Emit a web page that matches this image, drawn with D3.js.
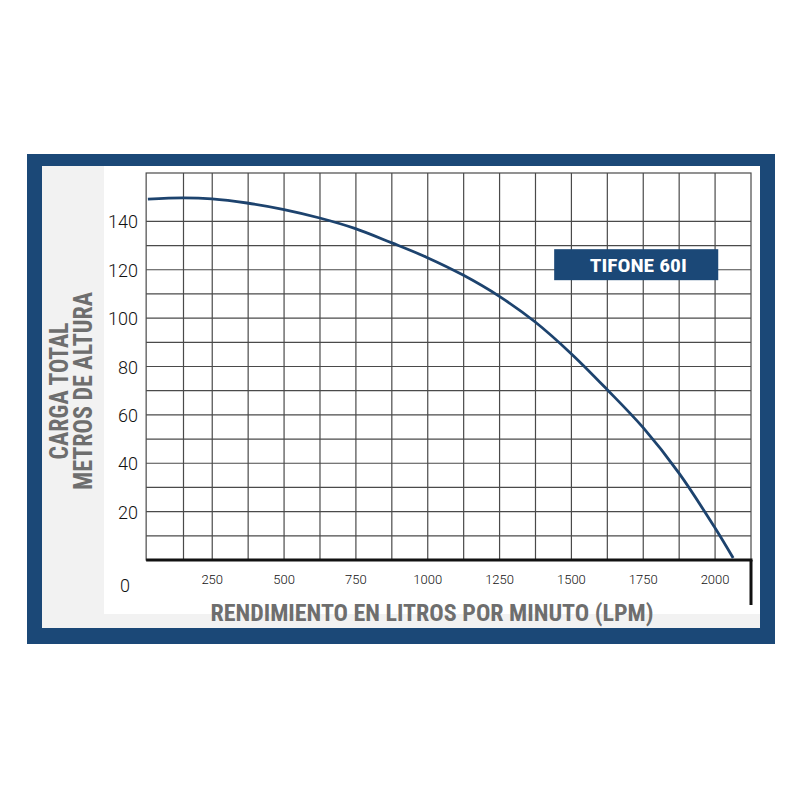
<!DOCTYPE html>
<html>
<head>
<meta charset="utf-8">
<script src="https://cdn.jsdelivr.net/npm/d3@7"></script>
<style>
  body { margin: 0; background: #fff; }
  svg { display: block; }
</style>
</head>
<body>
<div id="chart"></div>
<script>
// curve: flow (LPM) vs total head (m)
const flow = [26, 148, 249, 371, 496, 624, 746, 875, 997, 1123, 1248, 1373, 1502, 1624, 1749, 1875, 2000, 2063];
const head = [149.2, 149.7, 149.3, 147.6, 145, 141.4, 137.1, 131.1, 125.1, 117.8, 109.1, 98.5, 85, 70.5, 54.8, 35.8, 13.2, 0.8];

const xTicks = [250, 500, 750, 1000, 1250, 1500, 1750, 2000];
const yTicks = [0, 20, 40, 60, 80, 100, 120, 140];
const xGrid = [150, 250, 375, 500, 625, 750, 875, 1000, 1125, 1250, 1375, 1500, 1625, 1750, 1875, 2000];
const yGrid = [10, 20, 30, 40, 50, 60, 70, 80, 90, 100, 110, 120, 130, 140];
const seriesName = "TIFONE 60I";

const W = 800, H = 800;
const navy = "#1b4877";
const narrow = "'Liberation Sans Narrow', 'Arial Narrow', 'Roboto Condensed', sans-serif";
const plain = "Roboto, 'Liberation Sans', sans-serif";

const svg = d3.select("#chart").append("svg")
    .attr("width", W)
    .attr("height", H);

svg.append("rect").attr("width", W).attr("height", H).attr("fill", "#fff");

// frame
svg.append("rect")
    .attr("x", 27).attr("y", 154)
    .attr("width", 748).attr("height", 490)
    .attr("fill", navy);
svg.append("rect")
    .attr("x", 42).attr("y", 166)
    .attr("width", 718).attr("height", 462)
    .attr("fill", "#fff");
// soft grey bands
svg.append("rect")
    .attr("x", 42).attr("y", 166)
    .attr("width", 62).attr("height", 462)
    .attr("fill", "#f2f2f2");
svg.append("rect")
    .attr("x", 42).attr("y", 614)
    .attr("width", 718).attr("height", 14)
    .attr("fill", "#f2f2f2");

const x = d3.scaleLinear().domain([0, 2125]).range([140.4, 751]);
const y = d3.scaleLinear().domain([0, 160]).range([560, 173]);

const pLeft = x(20), pRight = x(2125), pTop = y(160), pBottom = y(0);

// grid
const grid = svg.append("g").attr("stroke", "#4a4a4a").attr("stroke-width", 1.2);
grid.selectAll(".vg")
    .data(xGrid)
    .enter().append("line")
    .attr("x1", d => x(d)).attr("x2", d => x(d))
    .attr("y1", pTop).attr("y2", pBottom);
grid.selectAll(".hg")
    .data(yGrid)
    .enter().append("line")
    .attr("x1", pLeft).attr("x2", pRight)
    .attr("y1", d => y(d)).attr("y2", d => y(d));
grid.append("rect")
    .attr("x", pLeft).attr("y", pTop)
    .attr("width", pRight - pLeft).attr("height", pBottom - pTop)
    .attr("fill", "none");

// axis baseline and right stub
svg.append("line")
    .attr("x1", pLeft).attr("x2", pRight + 1.5)
    .attr("y1", pBottom).attr("y2", pBottom)
    .attr("stroke", "#111").attr("stroke-width", 3);
svg.append("line")
    .attr("x1", pRight).attr("x2", pRight)
    .attr("y1", pBottom).attr("y2", pBottom + 45)
    .attr("stroke", "#111").attr("stroke-width", 3);

// legend tag
svg.append("rect")
    .attr("x", x(1440)).attr("y", y(128.5))
    .attr("width", x(2011) - x(1440)).attr("height", 31)
    .attr("fill", navy);
svg.append("text")
    .attr("x", (x(1440) + x(2011)) / 2 + 2)
    .attr("y", y(128.5) + 22.5)
    .attr("text-anchor", "middle")
    .attr("textLength", 97)
    .attr("lengthAdjust", "spacingAndGlyphs")
    .style("font-family", narrow)
    .style("font-weight", "bold")
    .style("font-size", "19px")
    .style("fill", "#fff")
    .text(seriesName);

// performance curve
const line = d3.line()
    .x(d => x(d[0]))
    .y(d => y(d[1]))
    .curve(d3.curveCatmullRom);
svg.append("path")
    .datum(flow.map((f, i) => [f, head[i]]))
    .attr("d", line)
    .attr("fill", "none")
    .attr("stroke", "#1d436e")
    .attr("stroke-width", 2.8);

// x tick labels
svg.selectAll(".xt")
    .data(xTicks)
    .enter().append("text")
    .attr("x", d => x(d))
    .attr("y", pBottom + 24)
    .attr("text-anchor", "middle")
    .style("font-family", plain)
    .style("font-weight", 300)
    .style("font-size", "13px")
    .style("fill", "#111")
    .text(d => d);

// y tick labels (0 sits below the axis)
svg.selectAll(".yt")
    .data(yTicks)
    .enter().append("text")
    .attr("x", d => d === 0 ? 125 : 138)
    .attr("y", d => d === 0 ? pBottom + 32 : y(d) + 7)
    .attr("text-anchor", d => d === 0 ? "middle" : "end")
    .style("font-family", plain)
    .style("font-weight", 300)
    .style("font-size", "18px")
    .style("fill", "#111")
    .text(d => d);

// axis titles
svg.append("text")
    .attr("x", 432)
    .attr("y", 621)
    .attr("text-anchor", "middle")
    .attr("textLength", 443)
    .attr("lengthAdjust", "spacingAndGlyphs")
    .style("font-family", narrow)
    .style("font-weight", "bold")
    .style("font-size", "23px")
    .style("fill", "#6e6e6e")
    .text("RENDIMIENTO EN LITROS POR MINUTO (LPM)");

svg.append("text")
    .attr("transform", "translate(68,391) rotate(-90)")
    .attr("text-anchor", "middle")
    .attr("textLength", 137)
    .attr("lengthAdjust", "spacingAndGlyphs")
    .style("font-family", narrow)
    .style("font-weight", "bold")
    .style("font-size", "25px")
    .style("fill", "#6e6e6e")
    .text("CARGA TOTAL");

svg.append("text")
    .attr("transform", "translate(92,391) rotate(-90)")
    .attr("text-anchor", "middle")
    .attr("textLength", 198)
    .attr("lengthAdjust", "spacingAndGlyphs")
    .style("font-family", narrow)
    .style("font-weight", "bold")
    .style("font-size", "25px")
    .style("fill", "#6e6e6e")
    .text("METROS DE ALTURA");
</script>
</body>
</html>
